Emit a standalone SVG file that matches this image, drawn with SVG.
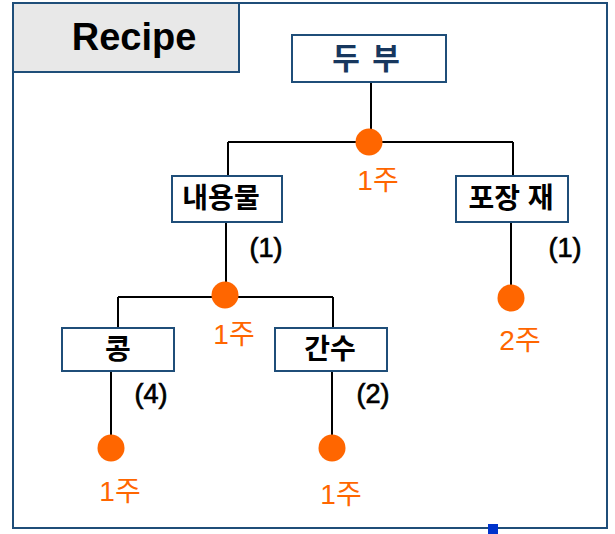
<svg xmlns="http://www.w3.org/2000/svg" width="615" height="534" viewBox="0 0 615 534">
<style>
.box{fill:#ffffff;stroke:#1f4e79;stroke-width:2}
.lbl{font-family:"Liberation Sans","Noto Sans CJK KR",sans-serif;font-weight:bold;font-size:28px;fill:#000;text-anchor:middle}
.qty{font-family:"Liberation Sans","Noto Sans CJK KR",sans-serif;font-size:27px;fill:#000;stroke:#000;stroke-width:0.7;text-anchor:middle}
.wk{font-family:"Liberation Sans","Noto Sans CJK KR",sans-serif;font-size:28px;fill:#ff6600;text-anchor:middle}
.dot{fill:#ff6600}
.ln{stroke:#000;stroke-width:2;fill:none}
</style>
<rect x="13" y="3" width="594" height="525" fill="#ffffff" stroke="#1f4e79" stroke-width="2"/>
<g id="title">
<rect x="13" y="3" width="226" height="69" fill="#e8e8e8" stroke="#1f4e79" stroke-width="2"/>
<text x="134" y="50" font-family="Liberation Sans, sans-serif" font-weight="bold" font-size="38" text-anchor="middle" fill="#000">Recipe</text>
</g>
<g id="connectors">
<path class="ln" d="M371 82 V142 M228 142 H513 M228 142 V176 M513 142 V176"/>
<path class="ln" d="M226 222 V295 M118 297 H333 M118 297 V328 M333 297 V328"/>
<path class="ln" d="M511 222 V298"/>
<path class="ln" d="M111 371 V448 M332 371 V448"/>
</g>
<g id="tofu">
<rect class="box" x="292" y="35" width="154" height="47"/>
<text x="367" y="69" font-family="Liberation Sans, Noto Sans CJK KR, sans-serif" font-weight="bold" font-size="30" fill="#17375e" text-anchor="middle" letter-spacing="2">두 부</text>
</g>
<g id="dot-top"><circle class="dot" cx="369" cy="142" r="13.5"/><text class="wk" x="378" y="190">1주</text></g>
<g id="contents">
<rect class="box" x="172" y="176" width="110" height="46"/>
<text class="lbl" x="221" y="208">내용물</text>
<text class="qty" x="266" y="257">(1)</text>
</g>
<g id="packaging">
<rect class="box" x="456" y="176" width="112" height="46"/>
<text class="lbl" x="511" y="208">포장 재</text>
<text class="qty" x="565" y="257">(1)</text>
</g>
<g id="dot-mid"><circle class="dot" cx="225" cy="295" r="13.5"/><text class="wk" x="234" y="344">1주</text></g>
<g id="dot-pack"><circle class="dot" cx="511" cy="298" r="13.5"/><text class="wk" x="520" y="350">2주</text></g>
<g id="bean">
<rect class="box" x="62" y="328" width="112" height="43"/>
<text class="lbl" x="118" y="359">콩</text>
<text class="qty" x="151" y="403">(4)</text>
</g>
<g id="brine">
<rect class="box" x="275" y="328" width="112" height="43"/>
<text class="lbl" x="330" y="359">간수</text>
<text class="qty" x="373" y="403">(2)</text>
</g>
<g id="dot-bean"><circle class="dot" cx="111" cy="448" r="13.5"/><text class="wk" x="120" y="501">1주</text></g>
<g id="dot-brine"><circle class="dot" cx="332" cy="448" r="13.5"/><text class="wk" x="341" y="504">1주</text></g>
<rect x="488" y="524" width="10" height="10" fill="#0033cc"/>
</svg>
